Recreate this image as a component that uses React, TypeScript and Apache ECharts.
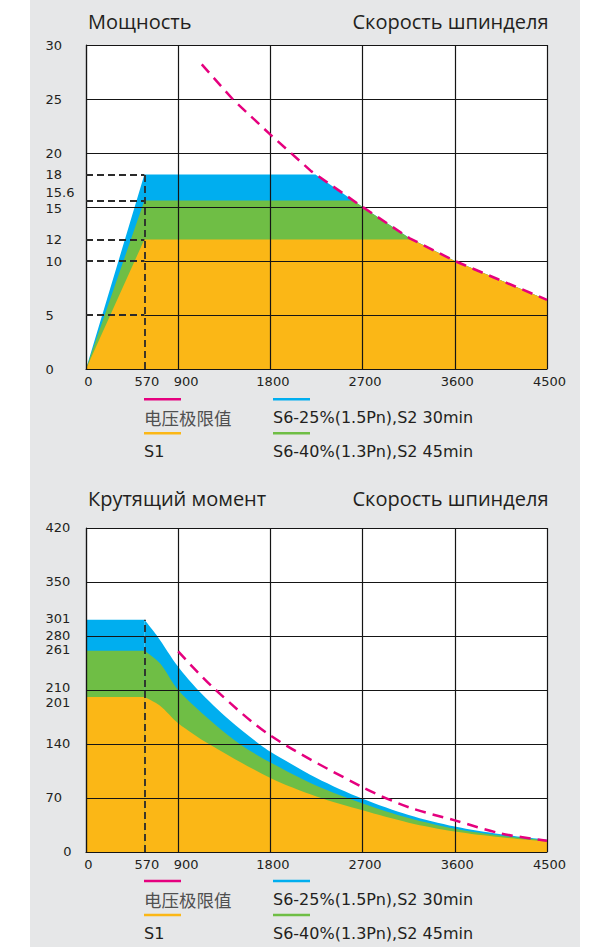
import React, { useEffect, useRef } from "react";
import * as echarts from "echarts";

// ---------- data ----------
const speedTicks = [0, 570, 900, 1800, 2700, 3600, 4500];
const baseSpeed = 570;

// Power chart (kW vs rpm)
const powerTicks = [0, 5, 10, 12, 15, 15.6, 18, 20, 25, 30];
const powerVoltageLimit = [
  [1130, 28.2], [1440, 24.9], [1800, 21.7], [2200, 18.3], [2700, 15],
  [3160, 12.1], [3600, 10], [4100, 8], [4500, 6.4],
];
const powerS6_25 = [
  [0, 0], [570, 18], [2240, 18], [2700, 15], [3160, 12.1], [3600, 10], [4100, 8], [4500, 6.4],
];
const powerS6_40 = [
  [0, 0], [570, 15.6], [2610, 15.6], [2700, 15], [3160, 12.1], [3600, 10], [4100, 8], [4500, 6.4],
];
const powerS1 = [
  [0, 0], [570, 12], [3180, 12], [3600, 10], [4100, 8], [4500, 6.4],
];
const powerGuideLevels = [5, 10, 12, 15.6, 18];
const powerFullGrid = [15, 20, 25, 30];
const powerPartialGrid = [5, 10];

// Torque chart (Nm vs rpm)
const torqueTicks = [0, 70, 140, 201, 210, 261, 280, 301, 350, 420];
const torqueVoltageLimit = [
  [900, 260], [1250, 212], [1800, 151], [2700, 84], [3150, 58], [3600, 41], [4050, 24], [4500, 14.5],
];
const torqueS6_25 = [
  [0, 301], [570, 301], [690, 281], [900, 240], [1100, 209], [1400, 171], [1700, 139],
  [1800, 130], [2250, 96], [2700, 69], [3150, 48], [3600, 33], [4050, 23], [4500, 16],
];
const torqueS6_40 = [
  [0, 261], [570, 261], [720, 245], [900, 210], [1200, 172], [1500, 140], [1800, 116],
  [2250, 86], [2700, 63], [3150, 44], [3600, 30], [4050, 21], [4500, 15],
];
const torqueS1 = [
  [0, 201], [570, 201], [720, 190], [900, 167], [1200, 140], [1800, 96], [2250, 72],
  [2700, 54], [3150, 38], [3600, 26.5], [4050, 19], [4500, 13.5],
];

const legendNames = ["电压极限值", "S1", "S6-25%(1.5Pn),S2 30min", "S6-40%(1.3Pn),S2 45min"];
const titles = [
  ["Мощность", "Скорость шпинделя"],
  ["Крутящий момент", "Скорость шпинделя"],
];

// ---------- styles ----------
const MAGENTA = "#e5007e";
const BLUE = "#00aeef";
const GREEN = "#6fbe45";
const ORANGE = "#fbb716";
const BG = "#e6e7e8";
const INK = "#231f20";
const NUM_FONT = '13px "DejaVu Sans"';
const LEGEND_FONT = '16px "DejaVu Sans"';
const CJK_FONT = '17.5px "Noto Sans CJK SC"';
const TITLE_FONT = '20px "Open Sans"';

export default function App() {
  const ref = useRef<HTMLDivElement>(null);

  useEffect(() => {
    const el = ref.current as HTMLDivElement;
    const chart = echarts.init(el, null, { renderer: "svg" });
    const gridLine = { color: "#151515", width: 1.2, type: "solid" as const };
    const guideLine = { color: "#2b2b2b", width: 1.8, type: [7, 4] as any };

    const area = (gi: number, data: number[][], color: string, smooth: number | boolean = false) => ({
      type: "line",
      xAxisIndex: gi,
      yAxisIndex: gi,
      data,
      z: 2,
      smooth,
      symbol: "none",
      showSymbol: false,
      silent: true,
      lineStyle: { width: 0 },
      areaStyle: { color, opacity: 1 },
    });

    // flat plateau (straight) + falling part (smooth) of a torque curve
    const torqueArea = (data: number[][], color: string) => [
      area(1, data.slice(0, 2), color, false),
      area(1, data.slice(1), color, 0.3),
    ];

    const limit = (gi: number, data: number[][], smooth: number | boolean) => ({
      type: "line",
      xAxisIndex: gi,
      yAxisIndex: gi,
      data,
      z: 6,
      smooth,
      symbol: "none",
      showSymbol: false,
      silent: true,
      lineStyle: { color: MAGENTA, width: 2.5, type: [11, 7] as any },
    });

    const lines = (gi: number, z: number, style: any, data: any[]) => ({
      type: "line",
      xAxisIndex: gi,
      yAxisIndex: gi,
      data: [],
      z,
      silent: true,
      symbol: "none",
      markLine: {
        z,
        silent: true,
        animation: false,
        symbol: ["none", "none"],
        label: { show: false },
        emphasis: { disabled: true },
        lineStyle: style,
        data,
      },
    });

    const seg = (x1: number, y1: number, x2: number, y2: number) => [
      { coord: [x1, y1] },
      { coord: [x2, y2] },
    ];

    chart.setOption({
      animation: false,
      grid: [
        { left: 86, top: 45, width: 461, height: 324, show: true, backgroundColor: "#fff", borderWidth: 0, z: 1 },
        { left: 86, top: 528, width: 461, height: 324, show: true, backgroundColor: "#fff", borderWidth: 0, z: 1 },
      ],
      xAxis: [0, 1].map((gi) => ({
        type: "value",
        gridIndex: gi,
        min: 0,
        max: 4500,
        interval: 900,
        z: 3,
        axisLine: { show: true, onZero: false, lineStyle: gridLine },
        axisTick: { show: false },
        axisLabel: { show: false },
        splitLine: { show: true, lineStyle: gridLine },
      })),
      yAxis: [
        {
          type: "value", gridIndex: 0, min: 0, max: 30, interval: 5, z: 3,
          axisLine: { show: true, lineStyle: gridLine },
          axisTick: { show: false }, axisLabel: { show: false }, splitLine: { show: false },
        },
        {
          type: "value", gridIndex: 1, min: 0, max: 420, interval: 70, z: 3,
          axisLine: { show: true, lineStyle: gridLine },
          axisTick: { show: false }, axisLabel: { show: false },
          splitLine: { show: true, lineStyle: gridLine },
        },
      ],
      series: [
        area(0, powerS6_25, BLUE),
        area(0, powerS6_40, GREEN),
        area(0, powerS1, ORANGE),
        lines(0, 3, gridLine, [
          ...powerFullGrid.map((v) => seg(0, v, 4500, v)),
          ...powerPartialGrid.map((v) => seg(baseSpeed, v, 4500, v)),
        ]),
        lines(0, 4, guideLine, [
          ...powerGuideLevels.map((v) => seg(0, v, baseSpeed, v)),
          seg(baseSpeed, 0, baseSpeed, Math.max(...powerGuideLevels)),
        ]),
        limit(0, powerVoltageLimit, false),

        ...torqueArea(torqueS6_25, BLUE),
        ...torqueArea(torqueS6_40, GREEN),
        ...torqueArea(torqueS1, ORANGE),
        lines(1, 4, guideLine, [seg(baseSpeed, 0, baseSpeed, torqueS6_25[0][1])]),
        limit(1, torqueVoltageLimit, 0.3),
      ],
    });

    const px = (gi: number, x: number, y: number) =>
      chart.convertToPixel({ gridIndex: gi } as any, [x, y]) as number[];

    const text = (t: string, x: number, y: number, font: string, align: string, fill = INK) => ({
      type: "text",
      x,
      y,
      z: 10,
      silent: true,
      style: {
        text: t,
        font,
        fill,
        align,
        textAlign: align,
        verticalAlign: "middle",
        textVerticalAlign: "middle",
      },
    });

    const g: any[] = [
      { type: "rect", z: 0, silent: true, shape: { x: 30, y: 0, width: 550, height: 947 }, style: { fill: BG } },
    ];

    // small vertical nudges so that crowded labels do not collide
    const labelNudge: Record<string, number> = { "0-15.6": -8.5, "0-15": 1.5, "1-210": -2.5, "1-201": 5.5 };

    const yTickSets = [powerTicks, torqueTicks];
    yTickSets.forEach((ticks, gi) => {
      const axisY = px(gi, 0, 0)[1];
      speedTicks.forEach((v) => {
        const x = px(gi, v, 0)[0] + (v === 900 ? 8 : 2.5);
        g.push(text(String(v), x, axisY + 12.5, NUM_FONT, "center"));
      });
      ticks.forEach((v) => {
        const key = `${gi}-${v}`;
        const dy = key in labelNudge ? labelNudge[key] : gi === 0 ? 0 : -1;
        const x = gi === 1 && v === 0 ? 63.3 : 45.5;
        g.push(text(String(v), x, px(gi, 0, v)[1] + dy, NUM_FONT, "left"));
      });
    });

    const titleY = [21.2, 498.3];
    titles.forEach((pair, i) => {
      g.push(text(pair[0], 88, titleY[i], TITLE_FONT, "left"));
      g.push(text(pair[1], 548.5, titleY[i], TITLE_FONT, "right"));
    });

    const legendBase = [399.3, 881];
    const legendColors = [MAGENTA, ORANGE, BLUE, GREEN];
    legendBase.forEach((by) => {
      legendNames.forEach((name, k) => {
        const col = k < 2 ? 0 : 1;
        const row = k % 2;
        const lx = col === 0 ? 144 : 273;
        const ly = by + row * 34;
        g.push({
          type: "line",
          z: 10,
          silent: true,
          shape: { x1: lx, y1: ly, x2: lx + 37, y2: ly },
          style: { stroke: legendColors[k], lineWidth: 2.5 },
        });
        const isCjk = k === 0;
        g.push(text(name, lx, ly + 18.6, isCjk ? CJK_FONT : LEGEND_FONT, "left", isCjk ? "#505050" : INK));
      });
    });

    chart.setOption({ graphic: g });

    return () => chart.dispose();
  }, []);

  return (
    <div
      ref={ref}
      style={{ position: "absolute", left: 0, top: 0, width: 598, height: 947, background: "#fff" }}
    />
  );
}
